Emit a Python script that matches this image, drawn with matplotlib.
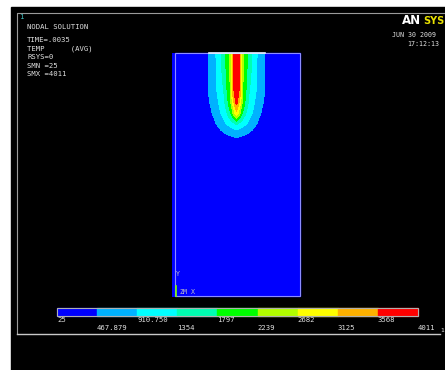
import matplotlib
matplotlib.use("Agg")
import matplotlib.pyplot as plt
import numpy as np

# contour legend values (TEMP)
levels = [25, 467.879, 910.750, 1354, 1797, 2239, 2682, 3125, 3568, 4011]
level_labels = ["25", "467.879", "910.750", "1354", "1797", "2239", "2682", "3125", "3568", "4011"]
band_colors = ["#0000ff", "#00b2ff", "#00ffff", "#00ffb2", "#00ff00",
               "#b2ff00", "#ffff00", "#ffb200", "#ff0000"]

# temperature: distance from plume axis (px) x depth below surface (px)
dx = [0, 3, 6, 9, 12, 16, 20, 24, 28, 32, 40, 64]
depth = [0, 10, 20, 30, 40, 50, 60, 70, 80, 90, 110, 244]
temp = [
    [4011, 3600, 2400, 2000, 1700, 1300, 950, 700, 500, 100, 25, 25],
    [4000, 3650, 2400, 2000, 1650, 1250, 930, 700, 500, 100, 25, 25],
    [3950, 3600, 2350, 1950, 1600, 1200, 920, 690, 490, 80, 25, 25],
    [3900, 3580, 2300, 1900, 1500, 1150, 900, 680, 480, 60, 25, 25],
    [3800, 3500, 2250, 1850, 1400, 1100, 880, 650, 470, 50, 25, 25],
    [3700, 3000, 2100, 1700, 1300, 1000, 800, 600, 400, 40, 25, 25],
    [3000, 2400, 1800, 1400, 1100, 900, 700, 480, 300, 30, 25, 25],
    [1500, 1300, 1150, 1000, 850, 700, 500, 300, 100, 25, 25, 25],
    [650, 600, 560, 520, 460, 350, 200, 80, 40, 25, 25, 25],
    [250, 230, 210, 180, 140, 100, 60, 30, 25, 25, 25, 25],
    [25, 25, 25, 25, 25, 25, 25, 25, 25, 25, 25, 25],
    [25, 25, 25, 25, 25, 25, 25, 25, 25, 25, 25, 25],
]

info_lines = ["NODAL SOLUTION", "TIME=.0035", "TEMP      (AVG)", "RSYS=0", "SMN =25", "SMX =4011"]
info_y = [27, 40, 48.5, 57, 65.5, 74]

fig = plt.figure(figsize=(4.45, 3.70), dpi=100)
fig.patch.set_facecolor("white")
ax = fig.add_axes([0, 0, 1, 1])
ax.set_xlim(0, 445)
ax.set_ylim(370, 0)
ax.axis("off")

mono = "DejaVu Sans Mono"

# black graphics window and grey frame
ax.add_patch(plt.Rectangle((11, 7), 440, 370, color="black", zorder=0))
ax.plot([17, 17, 450], [334, 13, 13], color="#9a9a9a", lw=0.8)
ax.plot([17, 440], [334, 334], color="#c8c8c8", lw=1.0)

# body with temperature field
x0, x1, ytop, ybot = 175, 300, 53, 296
xc = 236.5
d = np.array(dx, dtype=float)
xs = np.concatenate([xc - d[::-1], xc + d[1:]])
ys = ytop + np.array(depth, dtype=float)
T = np.array(temp, dtype=float)
T = np.hstack([T[:, ::-1], T[:, 1:]])
X, Y = np.meshgrid(xs, ys)
ax.add_patch(plt.Rectangle((x0, ytop), x1 - x0, ybot - ytop, color="#0000ff", zorder=1))
ax.contourf(X, Y, T, levels=levels, colors=band_colors, zorder=2, extend="both")
ax.add_patch(plt.Rectangle((x0, ytop), x1 - x0, ybot - ytop, fill=False,
                           ec="#8c8cff", lw=0.8, zorder=3))
ax.plot([209, 265], [ytop, ytop], color="#e8f4ff", lw=1.2, zorder=4)

# triad
ax.plot([176, 176], [296, 286], color="#7fff00", lw=1.2, zorder=5)
ax.text(176, 274, "Y", color="#c0c0c0", fontsize=4.8, family=mono, va="center", zorder=5)
ax.text(180, 292, "ZM", color="#c0c0c0", fontsize=4.8, family=mono, va="center", zorder=5)
ax.text(191, 292, "X", color="#c0c0c0", fontsize=4.8, family=mono, va="center", zorder=5)

# header text
ax.text(19, 17, "1", color="#40c0c0", fontsize=5.2, family=mono, va="center")
for line, yy in zip(info_lines, info_y):
    ax.text(27, yy, line, color="#e0e0e0", fontsize=5.2, family=mono, va="center")
ax.text(402, 21, "AN", color="white", fontsize=8.5, weight="bold", family="DejaVu Sans", va="center")
ax.text(423, 21, "SYS", color="#e8e000", fontsize=7, weight="bold", family="DejaVu Sans", va="center")
ax.text(392, 35, "JUN 30 2009", color="#e0e0e0", fontsize=4.8, family=mono, va="center")
ax.text(407, 44, "17:12:13", color="#e0e0e0", fontsize=4.8, family=mono, va="center")

# legend bar
bx0, bw, by0, bh = 57, 40.1, 308, 8
for i, c in enumerate(band_colors):
    ax.add_patch(plt.Rectangle((bx0 + i * bw, by0), bw, bh, color=c, zorder=3))
ax.add_patch(plt.Rectangle((bx0, by0), bw * len(band_colors), bh, fill=False,
                           ec="#b0b0b0", lw=0.8, zorder=4))
for i, lab in enumerate(level_labels):
    yy = 320.5 if i % 2 == 0 else 328.5
    ax.text(bx0 + i * bw, yy, lab, color="#e0e0e0", fontsize=5.2,
            family=mono, va="center", ha="left")
ax.text(440, 331, "1", color="#e0e0e0", fontsize=4.5, family=mono, va="center")

fig.savefig("out.png", dpi=100, facecolor="white")
